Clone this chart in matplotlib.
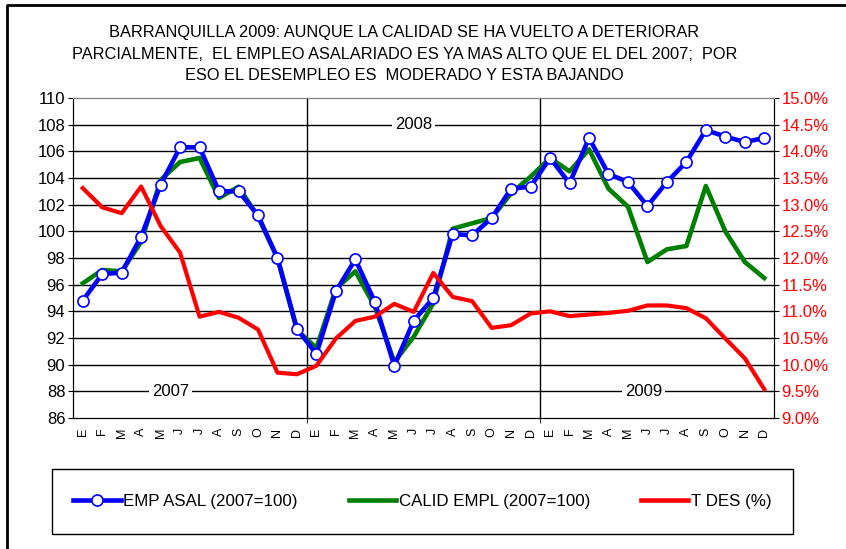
import matplotlib.pyplot as plt
from matplotlib.lines import Line2D
from matplotlib.ticker import FuncFormatter

plt.rcParams['font.family'] = ['Liberation Sans', 'DejaVu Sans']

meses = ['E', 'F', 'M', 'A', 'M', 'J', 'J', 'A', 'S', 'O', 'N', 'D'] * 3
years = ['2007', '2008', '2009']
year_label_x = [4.5, 17.0, 28.8]
year_label_y = [88, 108, 88]

emp_asal = [94.8, 96.8, 96.9, 99.6, 103.5, 106.3, 106.3, 103.0, 103.0, 101.2, 98.0, 92.7,
            90.8, 95.5, 97.9, 94.7, 89.9, 93.3, 95.0, 99.8, 99.7, 101.0, 103.2, 103.35,
            105.5, 103.6, 107.0, 104.3, 103.7, 101.9, 103.7, 105.2, 107.6, 107.1, 106.7, 107.0]
calid_empl = [96.1, 97.1, 97.0, 99.2, 103.85, 105.2, 105.5, 102.5, 103.35, 101.1, 98.0, 92.6,
              91.25, 95.7, 97.0, 94.35, 90.2, 92.1, 94.6, 100.2, 100.6, 101.0, 102.85, 104.1,
              105.5, 104.5, 106.15, 103.2, 101.85, 97.7, 98.65, 98.9, 103.4, 100.0, 97.7, 96.5]
t_des = [13.31, 12.95, 12.84, 13.34, 12.6, 12.1, 10.9, 10.99, 10.88, 10.66, 9.85, 9.82,
         9.98, 10.49, 10.82, 10.9, 11.14, 10.99, 11.72, 11.27, 11.19, 10.69, 10.74, 10.96,
         11.0, 10.91, 10.94, 10.97, 11.01, 11.11, 11.11, 11.06, 10.87, 10.49, 10.12, 9.54]

titulo = ("BARRANQUILLA 2009: AUNQUE LA CALIDAD SE HA VUELTO A DETERIORAR\n"
          "PARCIALMENTE,  EL EMPLEO ASALARIADO ES YA MAS ALTO QUE EL DEL 2007;  POR\n"
          "ESO EL DESEMPLEO ES  MODERADO Y ESTA BAJANDO")

W, H = 846, 549
fig = plt.figure(figsize=(W / 100, H / 100), dpi=100)
ax = fig.add_axes([73 / W, 1 - 418 / H, (774 - 73) / W, (418 - 98) / H])
ax2 = ax.twinx()

x = list(range(len(meses)))

# grid + year separators
for v in range(88, 110, 2):
    ax.axhline(v, color='black', lw=1.0, zorder=1)
for s in [11.5, 23.5]:
    ax.axvline(s, color='black', lw=1.0, zorder=1)

ax.plot(x, calid_empl, color='#008000', lw=3.3, zorder=3)
ax.plot(x, emp_asal, color='#0000FF', lw=3.3, marker='o', ms=8, mfc='white',
        mec='#0000FF', mew=1.2, zorder=4)
ax2.plot(x, t_des, color='#FF0000', lw=3.0, zorder=2)

for yr, xx, yy in zip(years, year_label_x, year_label_y):
    ax.text(xx, yy, yr, ha='center', va='center', fontsize=12, zorder=5,
            bbox=dict(facecolor='white', edgecolor='none', pad=2))

ax.set_xlim(-0.5, 35.5)
ax.set_ylim(86, 110)
ax.set_yticks(range(86, 111, 2))
ax.set_xticks(x)
ax.set_xticklabels(meses, rotation=90, fontsize=9)
ax.tick_params(axis='x', length=0, pad=7)
ax.tick_params(axis='y', direction='inout', length=7, labelsize=12, pad=2)
ax.set_xticks([11.5, 23.5], minor=True)
ax.tick_params(axis='x', which='minor', direction='inout', length=7)

ax2.set_ylim(9.0, 15.0)
ax2.set_yticks([9.0 + 0.5 * i for i in range(13)])
ax2.yaxis.set_major_formatter(FuncFormatter(lambda v, p: f'{v:.1f}%'))
ax2.tick_params(axis='y', direction='inout', length=7, labelsize=12,
                labelcolor='#FF0000', pad=2)

for a in (ax, ax2):
    a.spines['top'].set_color('#808080')
    for sp in ('left', 'right', 'bottom'):
        a.spines[sp].set_color('black')
    a.set_facecolor('none')

fig.text(0.478, 1 - 25 / H, titulo, ha='center', va='top', fontsize=11.8,
         linespacing=1.55)

handles = [
    Line2D([], [], color='#0000FF', lw=3.3, marker='o', ms=8, mfc='white', mec='#0000FF', mew=1.2),
    Line2D([], [], color='#008000', lw=3.3),
    Line2D([], [], color='#FF0000', lw=3.3),
]
labels = ['EMP ASAL (2007=100)', 'CALID EMPL (2007=100)', 'T DES (%)']
leg = fig.legend(handles, labels, loc='center', ncol=3,
                 bbox_to_anchor=(52 / W, 1 - 534 / H, (793 - 52) / W, 65 / H),
                 fontsize=12.2, handlelength=2.8, handletextpad=0.15, columnspacing=3.0,
                 borderaxespad=0, fancybox=False, framealpha=0)
# frame drawn separately so it spans the full box
fig.add_artist(plt.Rectangle((52 / W, 1 - 534 / H), (793 - 52) / W, 65 / H,
                             transform=fig.transFigure, fill=False,
                             edgecolor='black', lw=1.0))

# outer frame (top and left only are visible)
fig.add_artist(Line2D([7 / W, 7 / W, 1], [0, 1 - 5 / H, 1 - 5 / H],
                      transform=fig.transFigure, color='black', lw=2))

fig.savefig('out.png', dpi=100)
